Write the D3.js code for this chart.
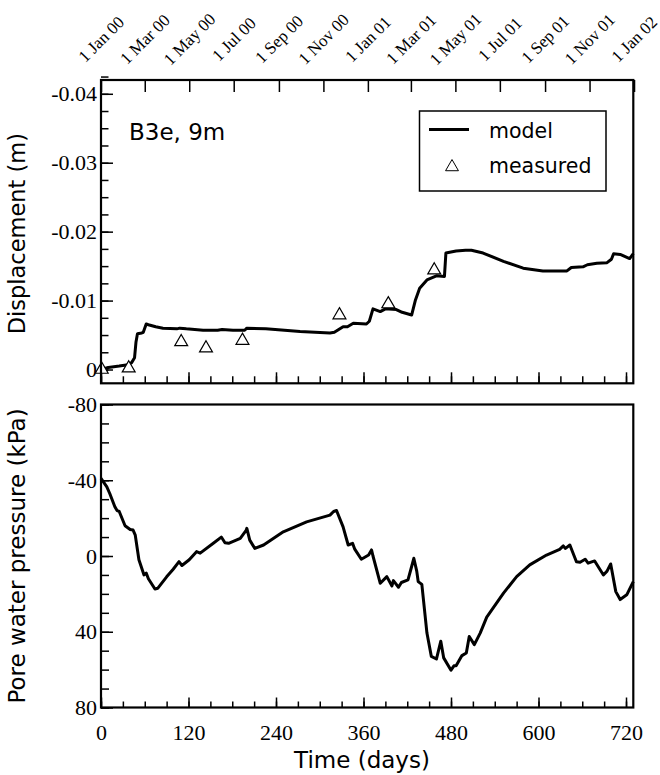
<!DOCTYPE html>
<html>
<head>
<meta charset="utf-8">
<script src="https://cdn.jsdelivr.net/npm/d3@7"></script>
<style>
  html, body { margin: 0; padding: 0; background: #fff; }
  svg { display: block; }
</style>
</head>
<body>
<svg id="chart" width="660" height="775"></svg>
<script>
// displacement model (days, m)
var dispDays = [0, 10, 25, 37, 42, 46, 48, 50, 56, 58, 62, 65, 75, 85, 104, 108, 117, 140, 160, 166,
  181, 197, 200, 226, 273, 314, 320, 326, 332, 338, 346, 364, 368, 373, 383, 390, 405, 413, 426, 431,
  437, 447, 460, 471, 473, 487, 500, 508, 524, 552, 579, 606, 639, 645, 661, 667, 680, 694, 700, 703,
  712, 725, 730];
var dispValues = [0, -0.0003, -0.0005, -0.0007, -0.0010, -0.0017, -0.0040, -0.0052, -0.0053, -0.0054,
  -0.0066, -0.0065, -0.0062, -0.0060, -0.0059, -0.0060, -0.0059, -0.0057, -0.0057, -0.0058,
  -0.0057, -0.0057, -0.0060, -0.0059, -0.0055, -0.0053, -0.0054, -0.0058, -0.0062, -0.0062,
  -0.0067, -0.0066, -0.0070, -0.0088, -0.0084, -0.0088, -0.0087, -0.0083, -0.0079, -0.0100,
  -0.0118, -0.0130, -0.0136, -0.0135, -0.0169, -0.0172, -0.0173, -0.0173, -0.0169, -0.0157,
  -0.0147, -0.0143, -0.0143, -0.0148, -0.0149, -0.0152, -0.0154, -0.0155, -0.0160, -0.0168,
  -0.0167, -0.0161, -0.0168];

// measured displacement
var measDays = [1, 38, 110, 144, 194, 327, 394, 457];
var measValues = [0, -0.0002, -0.0040, -0.0031, -0.0042, -0.0079, -0.0095, -0.0144];

// pore water pressure model (days, kPa)
var poreDays = [0, 8, 12, 19, 22, 25, 33, 40, 44, 47, 52, 59, 62, 65, 74, 78, 90, 99, 107, 111,
  121, 131, 136, 154, 165, 170, 175, 191, 199, 200, 204, 211, 223, 250, 282, 314, 319, 323, 332, 339,
  345, 348, 357, 367, 371, 373, 383, 392, 399, 401, 408, 412, 421, 425, 429, 433, 435, 440, 447, 453,
  460, 466, 470, 480, 484, 487, 495, 501, 505, 512, 520, 529, 535, 552, 570, 588, 611, 629, 634, 637,
  643, 652, 657, 664, 668, 677, 689, 694, 699, 706, 712, 721, 730];
var poreValues = [-41, -36.5, -33, -26, -24, -23.5, -16, -14, -13.7, -11, 2, 10, 9, 12, 17.4, 17, 11, 7, 3, 5,
  2, -2.3, -1.5, -6.7, -10, -7, -6.7, -9.3, -13.5, -14.6, -8.4, -4, -5.8, -12.8, -18, -21.6, -23.5, -24, -15.4, -5.8,
  -6.7, -3.6, 1.7, -0.5, -3.2, 0, 14.4, 10.9, 15.8, 13, 16.5, 14, 12.6, 7, 1.2, 8, 13.5, 15, 40.7, 53,
  54.4, 45, 53.8, 60.3, 58, 58, 52.6, 51.2, 42.5, 46.8, 40.7, 32.3, 29, 19.6, 10.9, 4.7, -0.5, -3.5, -5.3, -4,
  -5.8, 3, 3.3, 1.7, 3.8, 2.6, 10, 8, 4.2, 18.8, 23, 20.5, 13.5];

var timeTicks = [0, 120, 240, 360, 480, 600, 720];
var dispTicks = [0, -0.01, -0.02, -0.03, -0.04];
var poreTicks = [-80, -40, 0, 40, 80];

var SERIF = "'Liberation Serif', 'Times New Roman', serif";
var SANS = "'DejaVu Sans', Verdana, sans-serif";

var svg = d3.select("#chart");
var left = 101, right = 633.3;
var top1 = 80, bot1 = 383.3, top2 = 404.5, bot2 = 707.5;

var x = d3.scaleLinear().domain([0, 730]).range([left, right]);
var y1 = d3.scaleLinear().domain([0.002, -0.042]).range([bot1, top1]);
var y2 = d3.scaleLinear().domain([80, -80]).range([bot2, top2]);

var start = new Date(Date.UTC(2000, 0, 1));
var xt = d3.scaleUtc().domain([start, d3.utcDay.offset(start, 730)]).range([left, right]);

var minorTime = d3.range(0, 731, 30);

function axisG(axis, tx, ty) {
  var g = svg.append("g").attr("transform", "translate(" + tx + "," + ty + ")").call(axis);
  g.select(".domain").remove();
  g.attr("font-family", SERIF).attr("font-size", 22);
  g.selectAll(".tick line").attr("stroke", "#000").attr("stroke-width", 1.5);
  g.selectAll(".tick text").attr("fill", "#000");
  return g;
}

// ---- top panel ----
axisG(d3.axisBottom(x).tickValues(minorTime).tickSize(-7).tickFormat(""), 0, bot1);
axisG(d3.axisBottom(x).tickValues(timeTicks).tickSize(-11).tickFormat(""), 0, bot1);
axisG(d3.axisLeft(y1).tickValues(d3.range(0, -0.0426, -0.0025)).tickSize(-7.5).tickFormat(""), left, 0);
axisG(d3.axisLeft(y1).tickValues(dispTicks).tickSize(-12).tickPadding(4)
  .tickFormat(function (d) { return String(d); }), left, 0);

// calendar axis along the top, labels slanted at 45 degrees
var monthTicks = d3.utcMonth.every(2).range(start, d3.utcDay.offset(start, 732));
axisG(d3.axisTop(xt).tickValues(monthTicks).tickSize(-12).tickFormat(""), 0, top1);

svg.append("g").selectAll("text").data(monthTicks).enter().append("text")
  .attr("transform", function (d) { return "translate(" + xt(d) + ",39) rotate(-45)"; })
  .attr("text-anchor", "middle")
  .attr("dy", "0.35em")
  .attr("font-family", SERIF)
  .attr("font-size", 17)
  .attr("fill", "#000")
  .text(d3.utcFormat("%-d %b %y"));

var line1 = d3.line().x(function (d, i) { return x(dispDays[i]); }).y(function (d) { return y1(d); });
svg.append("path").attr("d", line1(dispValues))
  .attr("fill", "none").attr("stroke", "#000").attr("stroke-width", 3).attr("stroke-linejoin", "round");

var tri = d3.symbol().type(d3.symbolTriangle).size(72);
svg.append("g").selectAll("path").data(measValues).enter().append("path")
  .attr("d", tri)
  .attr("transform", function (d, i) { return "translate(" + x(measDays[i]) + "," + y1(d) + ")"; })
  .attr("fill", "#fff").attr("stroke", "#000").attr("stroke-width", 1.2);

svg.append("rect").attr("x", left).attr("y", top1).attr("width", right - left).attr("height", bot1 - top1)
  .attr("fill", "none").attr("stroke", "#000").attr("stroke-width", 2.2);

svg.append("text").attr("x", 129).attr("y", 139.5)
  .attr("font-family", SANS).attr("font-size", 23).text("B3e, 9m");

// legend
var lg = svg.append("g");
lg.append("rect").attr("x", 419.5).attr("y", 111).attr("width", 186.5).attr("height", 80)
  .attr("fill", "#fff").attr("stroke", "#000").attr("stroke-width", 1.5);
lg.append("line").attr("x1", 429).attr("x2", 469).attr("y1", 129.5).attr("y2", 129.5)
  .attr("stroke", "#000").attr("stroke-width", 3);
lg.append("path").attr("d", tri).attr("transform", "translate(452,167)")
  .attr("fill", "#fff").attr("stroke", "#000").attr("stroke-width", 1);
lg.append("text").attr("x", 489).attr("y", 137.5)
  .attr("font-family", SANS).attr("font-size", 20.5).text("model");
lg.append("text").attr("x", 489).attr("y", 173.3)
  .attr("font-family", SANS).attr("font-size", 20.5).text("measured");

svg.append("text")
  .attr("transform", "translate(25," + ((top1 + bot1) / 2 + 2) + ") rotate(-90)")
  .attr("text-anchor", "middle").attr("font-family", SANS).attr("font-size", 22.5)
  .text("Displacement (m)");

// ---- bottom panel ----
axisG(d3.axisBottom(x).tickValues(minorTime).tickSize(-6).tickFormat(""), 0, bot2);
axisG(d3.axisBottom(x).tickValues(timeTicks).tickSize(-10).tickPadding(8)
  .tickFormat(function (d) { return String(d); }), 0, bot2)
  .selectAll("text").attr("dy", null).attr("y", 32);
axisG(d3.axisLeft(y2).tickValues(d3.range(-80, 81, 10)).tickSize(-8).tickFormat(""), left, 0);
axisG(d3.axisLeft(y2).tickValues(poreTicks).tickSize(-12).tickPadding(4)
  .tickFormat(function (d) { return String(d); }), left, 0);

var line2 = d3.line().x(function (d, i) { return x(poreDays[i]); }).y(function (d) { return y2(d); });
svg.append("path").attr("d", line2(poreValues))
  .attr("fill", "none").attr("stroke", "#000").attr("stroke-width", 3).attr("stroke-linejoin", "round");

svg.append("rect").attr("x", left).attr("y", top2).attr("width", right - left).attr("height", bot2 - top2)
  .attr("fill", "none").attr("stroke", "#000").attr("stroke-width", 2.2);

svg.append("text")
  .attr("transform", "translate(25," + ((top2 + bot2) / 2) + ") rotate(-90)")
  .attr("text-anchor", "middle").attr("font-family", SANS).attr("font-size", 23)
  .text("Pore water pressure (kPa)");

svg.append("text").attr("x", 362).attr("y", 768)
  .attr("text-anchor", "middle").attr("font-family", SANS).attr("font-size", 23).text("Time (days)");
</script>
</body>
</html>
